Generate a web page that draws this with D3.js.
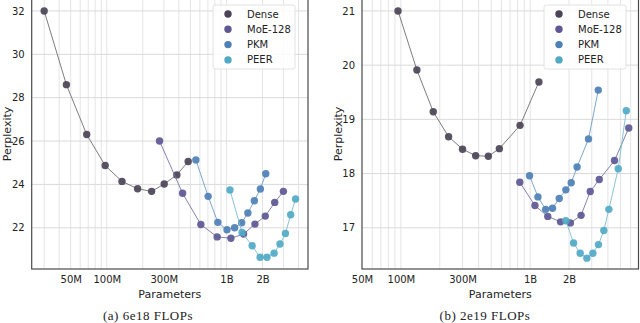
<!DOCTYPE html>
<html>
<head>
<meta charset="utf-8">
<script src="https://cdn.jsdelivr.net/npm/d3@7"></script>
<style>
  body { margin: 0; background: #fff; }
  svg { display: block; }
</style>
</head>
<body>
<div id="chart"></div>
<script>
// series labels and colours
const seriesNames = ["Dense", "MoE-128", "PKM", "PEER"];
const palette = ["#4b4456", "#5d5894", "#4e80b6", "#51a9c5"];
const lineColors = ["#6e6e6e", "#7873a6", "#6f9bc6", "#7bbdd3"];

// x tick labels (parameters)
const xTickVals = [50e6, 100e6, 300e6, 1e9, 2e9];
const xTickLabels = ["50M", "100M", "300M", "1B", "2B"];

// (a) 6e18 FLOPs - parameters in millions, perplexity
const denseA_params = [30, 46, 68, 97, 134, 181, 237, 302, 385, 479];
const denseA_ppl = [32.0, 28.6, 26.3, 24.87, 24.14, 23.8, 23.68, 24.02, 24.44, 25.06];
const moeA_params = [276, 430, 611, 836, 1090, 1390, 1730, 2110, 2530, 2990];
const moeA_ppl = [26.0, 23.59, 22.15, 21.58, 21.52, 21.71, 22.17, 22.54, 23.17, 23.68];
const pkmA_params = [555, 703, 847, 1010, 1170, 1340, 1510, 1710, 1920, 2130];
const pkmA_ppl = [25.13, 23.45, 22.25, 21.91, 22.0, 22.23, 22.68, 23.25, 23.79, 24.49];
const peerA_params = [1070, 1350, 1640, 1910, 2180, 2500, 2800, 3110, 3440, 3780];
const peerA_ppl = [23.74, 21.78, 21.17, 20.64, 20.64, 20.83, 21.25, 21.74, 22.6, 23.33];

// (b) 2e19 FLOPs
const denseB_params = [95, 133, 178, 234, 300, 379, 475, 578, 836, 1170];
const denseB_ppl = [21.0, 19.91, 19.14, 18.68, 18.45, 18.33, 18.32, 18.46, 18.89, 19.69];
const moeB_params = [832, 1090, 1370, 1720, 2050, 2480, 2920, 3430, 4500, 5800];
const moeB_ppl = [17.84, 17.41, 17.21, 17.11, 17.09, 17.23, 17.67, 17.89, 18.24, 18.84];
const pkmB_params = [990, 1150, 1320, 1490, 1680, 1890, 2080, 2310, 2830, 3370];
const pkmB_ppl = [17.96, 17.57, 17.34, 17.36, 17.54, 17.70, 17.83, 18.12, 18.64, 19.54];
const peerB_params = [1890, 2170, 2440, 2750, 3060, 3380, 3720, 4070, 4810, 5550];
const peerB_ppl = [17.13, 16.72, 16.53, 16.44, 16.53, 16.69, 16.95, 17.34, 18.09, 19.16];

const W = 640, H = 323;
const svg = d3.select("#chart").append("svg")
  .attr("width", W).attr("height", H)
  .attr("font-family", "'DejaVu Sans', sans-serif");

const panels = [
  {
    left: 31.7, right: 308, top: -1, bottom: 269,
    xDomain: [23.6e6, 4.8e9], yDomain: [20.1, 32.55],
    yTicks: [22, 24, 26, 28, 30, 32],
    caption: "(a) 6e18 FLOPs", captionX: 148,
    legendX: 213, ylabelX: 11,
    series: [
      [denseA_params, denseA_ppl], [moeA_params, moeA_ppl],
      [pkmA_params, pkmA_ppl], [peerA_params, peerA_ppl]
    ]
  },
  {
    left: 362, right: 638.5, top: -1, bottom: 269,
    xDomain: [50e6, 6.9e9], yDomain: [16.24, 21.22],
    yTicks: [17, 18, 19, 20, 21],
    caption: "(b) 2e19 FLOPs", captionX: 485,
    legendX: 544, ylabelX: 341.5,
    series: [
      [denseB_params, denseB_ppl], [moeB_params, moeB_ppl],
      [pkmB_params, pkmB_ppl], [peerB_params, peerB_ppl]
    ]
  }
];

panels.forEach(function(p) {
  const x = d3.scaleLog().domain(p.xDomain).range([p.left, p.right]);
  const y = d3.scaleLinear().domain(p.yDomain).range([p.bottom, p.top]);
  const g = svg.append("g");

  // log grid: every multiple inside the domain
  const grid = [];
  for (let e = 7; e <= 10; e++) {
    for (let m = 1; m <= 9; m++) {
      const v = m * Math.pow(10, e);
      if (v > p.xDomain[0] && v < p.xDomain[1]) grid.push(v);
    }
  }
  g.selectAll(".vgrid").data(grid).enter().append("line")
    .attr("x1", d => x(d)).attr("x2", d => x(d))
    .attr("y1", p.top).attr("y2", p.bottom)
    .attr("stroke", "#e4e4e4").attr("stroke-width", 1);

  g.selectAll(".hgrid").data(p.yTicks).enter().append("line")
    .attr("x1", p.left).attr("x2", p.right)
    .attr("y1", d => y(d)).attr("y2", d => y(d))
    .attr("stroke", "#dadada").attr("stroke-width", 1);

  // frame
  g.append("rect")
    .attr("x", p.left).attr("y", p.top)
    .attr("width", p.right - p.left).attr("height", p.bottom - p.top)
    .attr("fill", "none").attr("stroke", "#4a4a4a").attr("stroke-width", 1.2);

  // x axis labels
  const xAxis = g.append("g")
    .attr("transform", "translate(0," + p.bottom + ")")
    .call(d3.axisBottom(x).tickValues(xTickVals)
      .tickFormat((d, i) => xTickLabels[i]).tickSize(0).tickPadding(7));
  xAxis.select(".domain").remove();
  xAxis.selectAll("text").attr("font-size", "10px").attr("fill", "#222")
    .attr("font-family", "'DejaVu Sans', sans-serif");

  const yAxis = g.append("g")
    .attr("transform", "translate(" + p.left + ",0)")
    .call(d3.axisLeft(y).tickValues(p.yTicks).tickFormat(d3.format("d"))
      .tickSize(0).tickPadding(7));
  yAxis.select(".domain").remove();
  yAxis.selectAll("text").attr("font-size", "10px").attr("fill", "#222")
    .attr("font-family", "'DejaVu Sans', sans-serif");

  // axis titles
  g.append("text")
    .attr("x", (p.left + p.right) / 2).attr("y", 298)
    .attr("text-anchor", "middle").attr("font-size", "11px").attr("fill", "#222")
    .text("Parameters");
  g.append("text")
    .attr("transform", "translate(" + p.ylabelX + "," + ((p.top + p.bottom) / 2) + ") rotate(-90)")
    .attr("text-anchor", "middle").attr("font-size", "11px").attr("fill", "#222")
    .text("Perplexity");

  // caption
  g.append("text")
    .attr("x", p.captionX).attr("y", 320)
    .attr("text-anchor", "middle").attr("font-size", "13px").attr("fill", "#222")
    .attr("letter-spacing", "0.5px")
    .attr("font-family", "'Liberation Serif', 'DejaVu Serif', serif")
    .text(p.caption);

  // lines and points
  const line = d3.line().x(d => x(d[0] * 1e6)).y(d => y(d[1]));
  p.series.forEach(function(s, i) {
    const pts = s[0].map((v, k) => [v, s[1][k]]);
    g.append("path")
      .attr("d", line(pts))
      .attr("fill", "none").attr("stroke", lineColors[i]).attr("stroke-width", 0.9);
    g.selectAll(".pt" + i).data(pts).enter().append("circle")
      .attr("cx", d => x(d[0] * 1e6)).attr("cy", d => y(d[1]))
      .attr("r", 3.7)
      .attr("fill", palette[i]).attr("fill-opacity", 0.92);
  });

  // legend
  const lg = g.append("g").attr("transform", "translate(" + p.legendX + ",5)");
  lg.append("rect")
    .attr("width", 82).attr("height", 64).attr("rx", 2)
    .attr("fill", "#fff").attr("fill-opacity", 0.85)
    .attr("stroke", "#e2e2e2").attr("stroke-width", 1);
  const items = lg.selectAll(".item").data(seriesNames).enter().append("g")
    .attr("transform", (d, i) => "translate(0," + (9 + 15.3 * i) + ")");
  items.append("circle").attr("cx", 15).attr("cy", 0).attr("r", 3.7)
    .attr("fill", (d, i) => palette[i]);
  items.append("text").attr("x", 34).attr("y", 0).attr("dy", "0.35em")
    .attr("font-size", "10px").attr("fill", "#222")
    .text(d => d);
});
</script>
</body>
</html>
